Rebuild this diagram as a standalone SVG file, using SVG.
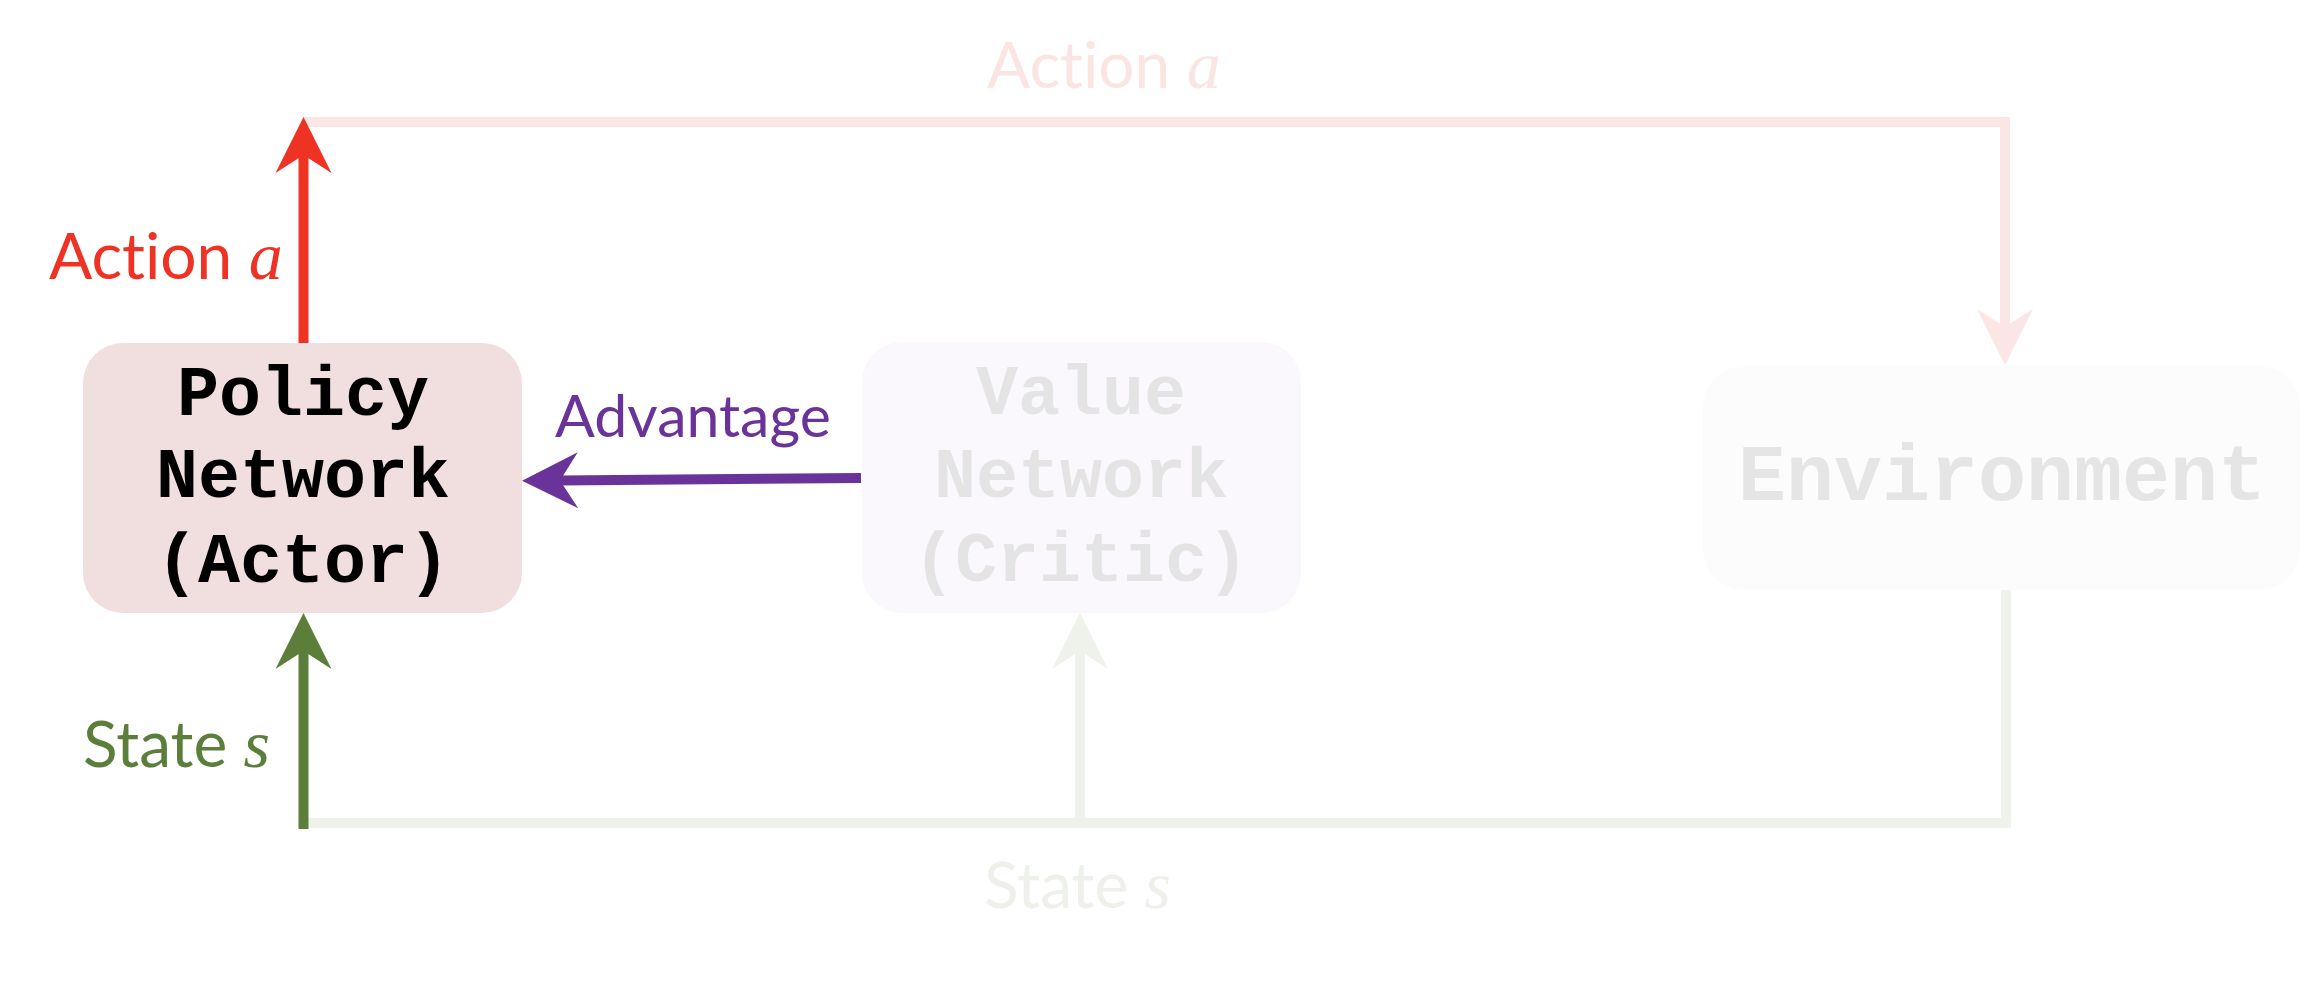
<svg xmlns="http://www.w3.org/2000/svg" width="2318" height="984" viewBox="0 0 2318 984">
  <style>
    .node-label { font-family: "Liberation Mono", "Courier New", monospace; font-weight: bold; font-size: 70px; text-anchor: middle; }
    .edge-label { font-family: Lato, "Open Sans", sans-serif; font-size: 64px; font-variant-ligatures: none; font-feature-settings: "liga" 0; }
    .math { font-family: "Liberation Serif", "Times New Roman", serif; font-style: italic; font-size: 68px; }
    .conn { fill: none; stroke-width: 10; stroke-linejoin: miter; stroke-linecap: butt; }
  </style>
  <defs>
    <!-- stealth-style arrowhead: 56 long, 56 wide, notch 18 from the back; refX at the notch -->
    <marker id="head-red" markerUnits="userSpaceOnUse" markerWidth="56" markerHeight="56" refX="18" refY="28" orient="auto" overflow="visible">
      <path d="M0,0 L56,28 L0,56 L18,28 Z" fill="#ee3224"/>
    </marker>
    <marker id="head-red-faint" markerUnits="userSpaceOnUse" markerWidth="56" markerHeight="56" refX="18" refY="28" orient="auto" overflow="visible">
      <path d="M0,0 L56,28 L0,56 L18,28 Z" fill="#fbe6e5"/>
    </marker>
    <marker id="head-purple" markerUnits="userSpaceOnUse" markerWidth="56" markerHeight="56" refX="18" refY="28" orient="auto" overflow="visible">
      <path d="M0,0 L56,28 L0,56 L18,28 Z" fill="#6a3399"/>
    </marker>
    <marker id="head-green" markerUnits="userSpaceOnUse" markerWidth="56" markerHeight="56" refX="18" refY="28" orient="auto" overflow="visible">
      <path d="M0,0 L56,28 L0,56 L18,28 Z" fill="#5b7f3b"/>
    </marker>
    <marker id="head-green-faint" markerUnits="userSpaceOnUse" markerWidth="56" markerHeight="56" refX="18" refY="28" orient="auto" overflow="visible">
      <path d="M0,0 L56,28 L0,56 L18,28 Z" fill="#eef2ea"/>
    </marker>
  </defs>

  <rect width="2318" height="984" fill="#ffffff"/>

  <!-- nodes -->
  <g id="policy-network">
    <rect x="83" y="343" width="439" height="270" rx="40" ry="40" fill="#f1dfdf"/>
    <text class="node-label" x="303" y="415" fill="#000000">Policy</text>
    <text class="node-label" x="303" y="497" fill="#000000">Network</text>
    <text class="node-label" x="303" y="582" fill="#000000">(Actor)</text>
  </g>

  <g id="value-network">
    <rect x="862" y="342" width="439" height="271" rx="40" ry="40" fill="#faf8fd"/>
    <text class="node-label" x="1081" y="414" fill="#e4e4e4">Value</text>
    <text class="node-label" x="1081" y="497" fill="#e4e4e4">Network</text>
    <text class="node-label" x="1081" y="581" fill="#e4e4e4">(Critic)</text>
  </g>

  <g id="environment">
    <rect x="1703" y="366" width="597" height="224" rx="40" ry="40" fill="#fcfcfc"/>
    <text class="node-label" x="2002" y="500" fill="#e5e5e5" style="font-size:80px">Environment</text>
  </g>

  <!-- connectors -->
  <g id="connectors">
    <!-- action loop to the environment (faded) -->
    <path class="conn" d="M303,122 L2005,122 L2005,327" stroke="#fbe6e5" marker-end="url(#head-red-faint)"/>
    <!-- state loop from the environment (faded) -->
    <path class="conn" d="M2006,590 L2006,823 L303,823" stroke="#eef2ea"/>
    <path class="conn" d="M1080,823 L1080,651" stroke="#eef2ea" marker-end="url(#head-green-faint)"/>
    <!-- actor output -->
    <path class="conn" d="M303.5,343 L303.5,155" stroke="#ee3224" marker-end="url(#head-red)"/>
    <!-- state into the actor -->
    <path class="conn" d="M303.5,829 L303.5,651" stroke="#5b7f3b" marker-end="url(#head-green)"/>
    <!-- advantage from critic to actor -->
    <path class="conn" d="M861,478 L560,480.5" stroke="#6a3399" stroke-width="12" marker-end="url(#head-purple)"/>
  </g>

  <!-- connector labels -->
  <g id="labels">
    <text class="edge-label" x="49" y="279" fill="#ee3224">Action <tspan class="math">a</tspan></text>
    <text class="edge-label" x="987" y="88" fill="#fae5e3">Action <tspan class="math">a</tspan></text>
    <text class="edge-label" x="555" y="437" fill="#6a3399" style="font-size:59px">Advantage</text>
    <text class="edge-label" x="83" y="767" fill="#5b7f3b">State <tspan class="math">s</tspan></text>
    <text class="edge-label" x="984" y="908" fill="#eef1ea">State <tspan class="math">s</tspan></text>
  </g>
</svg>
